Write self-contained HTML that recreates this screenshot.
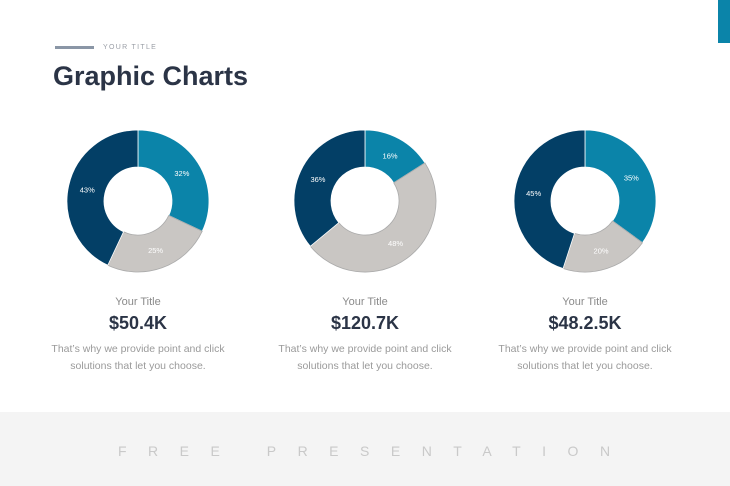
<!DOCTYPE html>
<html><head><style>
body{margin:0;width:730px;height:486px;background:#fff;position:relative;overflow:hidden;font-family:"Liberation Sans",sans-serif}
.a{position:absolute}
.t{width:220px;text-align:center}
.d{width:180px;text-align:center;font-size:10.5px;line-height:17px;color:#9a9a9a;top:341px}
</style></head><body>
<div class="a" style="left:718px;top:0;width:12px;height:43px;background:#0b84a9"></div>
<div class="a" style="left:55px;top:46px;width:39px;height:3px;background:#8a96a6"></div>
<div class="a" style="left:103px;top:44px;font-size:7px;letter-spacing:1.3px;color:#9a9ea6">YOUR TITLE</div>
<div class="a" style="left:53px;top:61px;font-size:27px;font-weight:bold;color:#2b3446">Graphic Charts</div>
<svg class="a" style="left:0;top:0" width="730" height="486" id="s"></svg>
<div class="a t" style="left:28px;top:296px;font-size:11px;color:#8a8a8a">Your Title</div>
<div class="a t" style="left:28px;top:313px;font-size:18px;font-weight:bold;color:#2b3446">$50.4K</div>
<div class="a d" style="left:48px">That’s why we provide point and click solutions that let you choose.</div>
<div class="a t" style="left:255px;top:296px;font-size:11px;color:#8a8a8a">Your Title</div>
<div class="a t" style="left:255px;top:313px;font-size:18px;font-weight:bold;color:#2b3446">$120.7K</div>
<div class="a d" style="left:275px">That’s why we provide point and click solutions that let you choose.</div>
<div class="a t" style="left:475px;top:296px;font-size:11px;color:#8a8a8a">Your Title</div>
<div class="a t" style="left:475px;top:313px;font-size:18px;font-weight:bold;color:#2b3446">$48.2.5K</div>
<div class="a d" style="left:495px">That’s why we provide point and click solutions that let you choose.</div>
<div class="a" style="left:0;top:412px;width:730px;height:74px;background:#f4f4f4"></div>
<div class="a" style="left:118px;top:443px;white-space:nowrap;font-size:14px;letter-spacing:21.5px;color:#c9c9c9">FREE&nbsp;PRESENTATION</div>
<script>
var s=document.getElementById('s'),ns='http://www.w3.org/2000/svg';
var C=['#0b84a9','#c9c6c3','#033f66'];
var D=[[138,201,[32,25,43]],[365,201,[16,48,36]],[585,201,[35,20,45]]];
var R=71,r=34;
D.forEach(function(d){var cx=d[0],cy=d[1],a=0;
d[2].forEach(function(v,i){var a0=a/100*2*Math.PI-Math.PI/2,a1=(a+v)/100*2*Math.PI-Math.PI/2,l=v>50?1:0;
function p(rr,t){return (cx+rr*Math.cos(t)).toFixed(2)+' '+(cy+rr*Math.sin(t)).toFixed(2)}
var e=document.createElementNS(ns,'path');
e.setAttribute('d','M'+p(R,a0)+'A'+R+' '+R+' 0 '+l+' 1 '+p(R,a1)+'L'+p(r,a1)+'A'+r+' '+r+' 0 '+l+' 0 '+p(r,a0)+'Z');
e.setAttribute('fill',C[i]);e.setAttribute('stroke',i==1?'#aaa':'#fff');e.setAttribute('stroke-width','0.8');s.appendChild(e);
var m=(a0+a1)/2,t=document.createElementNS(ns,'text');
t.setAttribute('x',cx+52*Math.cos(m));t.setAttribute('y',cy+52*Math.sin(m)+3);t.setAttribute('text-anchor','middle');
t.setAttribute('font-size','7.5');t.setAttribute('fill','#fff');t.setAttribute('font-family','Liberation Sans');t.textContent=v+'%';s.appendChild(t);
a+=v;});});
</script>
</body></html>
